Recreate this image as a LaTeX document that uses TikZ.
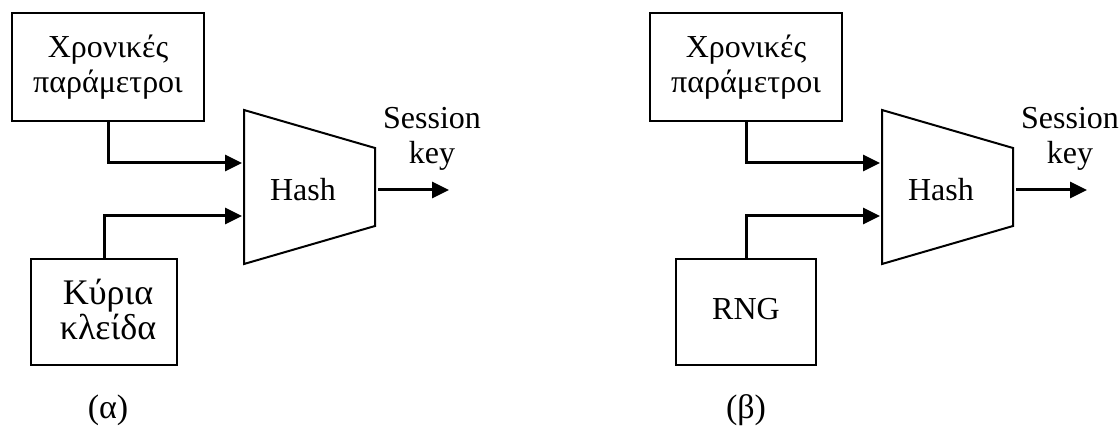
\documentclass[tikz,border=0pt]{standalone}
\usepackage{fontspec}
\setmainfont{Liberation Serif}
\usetikzlibrary{arrows.meta}

\begin{document}
\begin{tikzpicture}
  [x=.5pt,y=-.5pt
  ,txt/.style={font=\fontsize{16}{17.5}\selectfont,align=center,inner sep=0}
  ,box/.style={txt,draw,line width=1pt}
  ,lin/.style={line width=1.5pt,-{Triangle[length=8.5pt,width=8pt]}}]
  \useasboundingbox (0,0) rectangle (1120,427);
  \foreach \dx/\n/\src/\fs/\srcw/\srcx/\sx/\tag in
    {0/a/{Κύρια\\κλείδα}/18/73pt/104/4/α,638/b/RNG/16/70pt/746/0/β}{
    \node[box,minimum width=96pt,minimum height=54pt] (top\n) at (108+\dx,67) {Χρονικές\\παράμετροι};
    \node[box,minimum width=\srcw,minimum height=53pt] (src\n) at (\srcx,312) {};
    \node[txt,font=\fontsize{\fs}{17.5}\selectfont] (srctxt\n) at (\srcx+\sx,309) {\src};
    \coordinate (tl\n) at (244+\dx,110);
    \coordinate (tr\n) at (375+\dx,148);
    \coordinate (br\n) at (375+\dx,226);
    \coordinate (bl\n) at (244+\dx,264);
    \draw[line width=1pt] (tl\n) -- (tr\n) -- (br\n) -- (bl\n) -- cycle;
    \node[txt] (hash\n) at (303+\dx,190) {Hash};
    \coordinate (in1\n) at (242+\dx,163);
    \coordinate (in2\n) at (242+\dx,216);
    \coordinate (o\n) at (378+\dx,190);
    \coordinate (out\n) at (449+\dx,190);
    \draw[lin] (top\n) |- (in1\n);
    \draw[lin] (src\n) |- (in2\n);
    \draw[lin] (o\n) -- (out\n);
    \node[txt] (key\n) at (432+\dx,139) {Session\\key};
    \node[txt,font=\fontsize{17}{18}\selectfont] (tag\n) at (108+\dx,410) {(\tag)};
  }
\end{tikzpicture}
\end{document}
